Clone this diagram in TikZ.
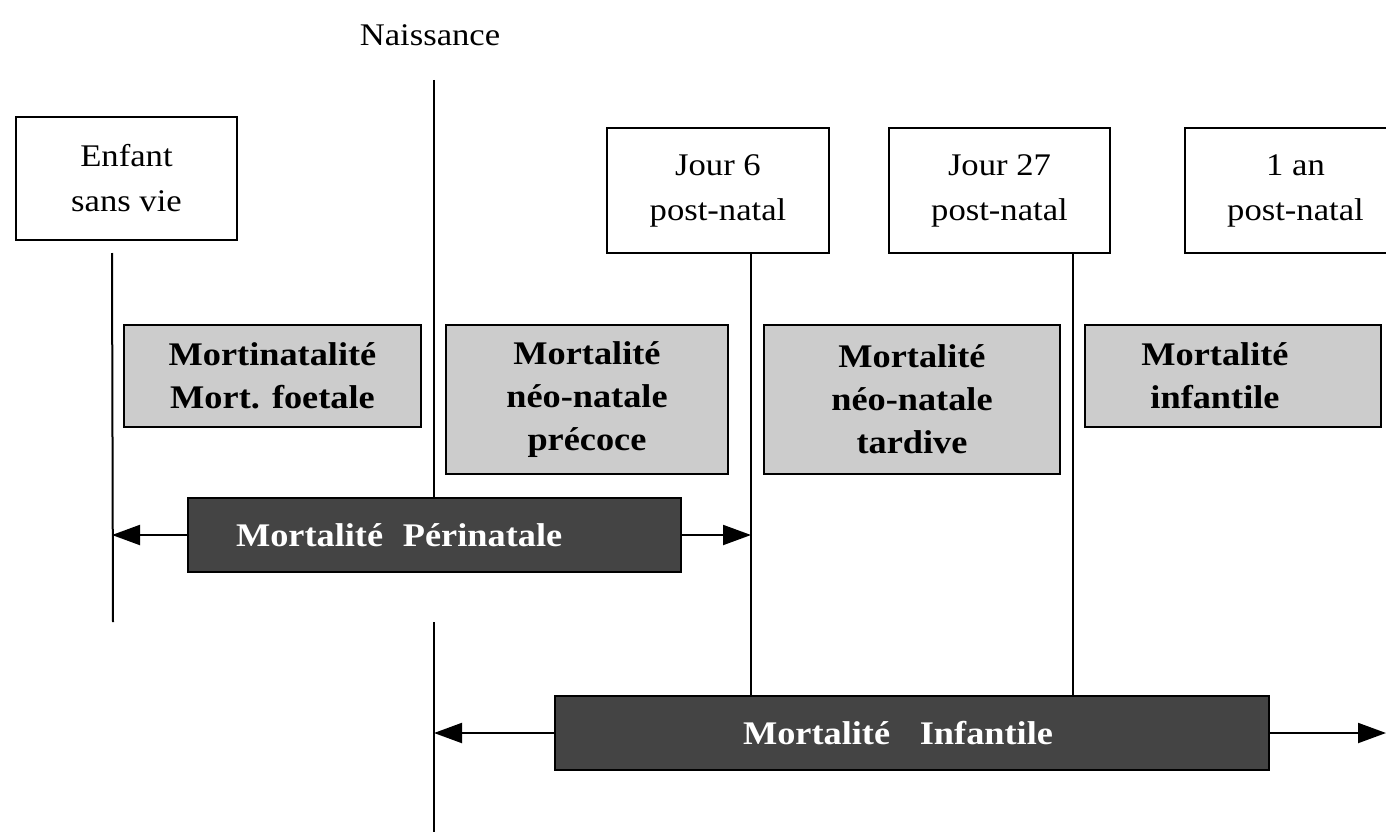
\documentclass[tikz,border=0pt]{standalone}
\usepackage{fontspec}
\setmainfont[FakeStretch=1.1]{Liberation Serif}
\usetikzlibrary{arrows.meta}
\definecolor{darkbox}{HTML}{444444}
\definecolor{lightbox}{HTML}{CCCCCC}
\begin{document}
\begin{tikzpicture}[x=1pt,y=-1pt,
  whitebox/.style={draw=black,line width=2pt,fill=white,inner sep=0pt,align=center,
    font=\fontsize{31.5}{45}\selectfont},
  graybox/.style={draw=black,line width=2pt,fill=lightbox,inner sep=0pt,align=center,
    font=\bfseries\fontsize{33}{43}\selectfont},
  darkrect/.style={draw=black,line width=1.5pt,fill=darkbox,text=white,inner sep=0pt,
    font=\bfseries\fontsize{33}{40}\selectfont},
  plaintext/.style={inner sep=0pt,align=center},
  vline/.style={line width=2pt},
  thinvline/.style={line width=1.3pt},
  arr/.style={line width=2pt,-{Triangle[length=28pt,width=20pt]}}]
\useasboundingbox (0,0) rectangle (1386,832);
\clip (0,0) rectangle (1386,832);

% top labels and time boxes
\node[font=\fontsize{31.5}{40}\selectfont] (naiss) at (430,35) {Naissance};
\node[whitebox,minimum width=221pt,minimum height=123pt] (enfant) at (126.5,178.5) {Enfant\\sans vie};
\node[whitebox,minimum width=222pt,minimum height=125pt] (jour6) at (718,190.5) {Jour 6\\post-natal};
\node[whitebox,minimum width=221pt,minimum height=125pt] (jour27) at (999.5,190.5) {Jour 27\\post-natal};
\node[whitebox,minimum width=221pt,minimum height=125pt] (an1) at (1295.5,190.5) {1 an\\post-natal};

% gray category boxes
\node[graybox,minimum width=297pt,minimum height=102pt] (g1) at (272.5,376) {Mortinatalité\\Mort. foetale};
\node[graybox,minimum width=282pt,minimum height=149pt] (g2) at (587,399.5) {Mortalité\\néo-natale\\précoce};
\node[graybox,minimum width=296pt,minimum height=149pt] (g3) at (912,399.5) {Mortalité\\néo-natale\\tardive};
\node[graybox,minimum width=296pt,minimum height=102pt] (g4) at (1233,376) {};
\node[plaintext,font=\bfseries\fontsize{33}{43}\selectfont] (g4text) at (1215,376) {Mortalité\\infantile};

% dark range boxes
\node[darkrect,minimum width=493pt,minimum height=74pt,text width=397pt,inner xsep=48pt,align=left] (peri) at (434.5,535) {Mortalité\hspace{0.6em}Périnatale};
\node[darkrect,minimum width=714pt,minimum height=74pt,text width=338pt,inner xsep=188pt,align=left] (infd) at (912,733) {Mortalité\hspace{0.9em}Infantile};

% reference coordinates for the time lines
\coordinate (naisstop) at (434,80);
\coordinate (naissbot) at (434,622);
\coordinate (naissend) at (434,832);
\path (enfant.south west) ++(97,12) coordinate (enftop);
\coordinate (enfbot) at (113,622);
\path (jour6.south west) ++(145,0) coordinate (j6top);
\path (jour27.south west) ++(185,0) coordinate (j27top);
\coordinate (rightend) at (1386,733);

% time lines
\draw[vline] (naisstop) -- (naisstop |- peri.north);
\draw[vline] (naissbot) -- (naissend);
\draw[vline] (enftop) -- (enfbot);
\draw[thinvline] (j6top) -- (j6top |- infd.north);
\draw[vline] (j27top) -- (j27top |- infd.north);

% range arrows
\draw[arr] (peri.west) -- (peri.west -| enftop);
\draw[arr] (peri.east) -- (peri.east -| j6top);
\draw[arr] (infd.west) -- (infd.west -| naisstop);
\draw[arr] (infd.east) -- (rightend);
\end{tikzpicture}
\end{document}
